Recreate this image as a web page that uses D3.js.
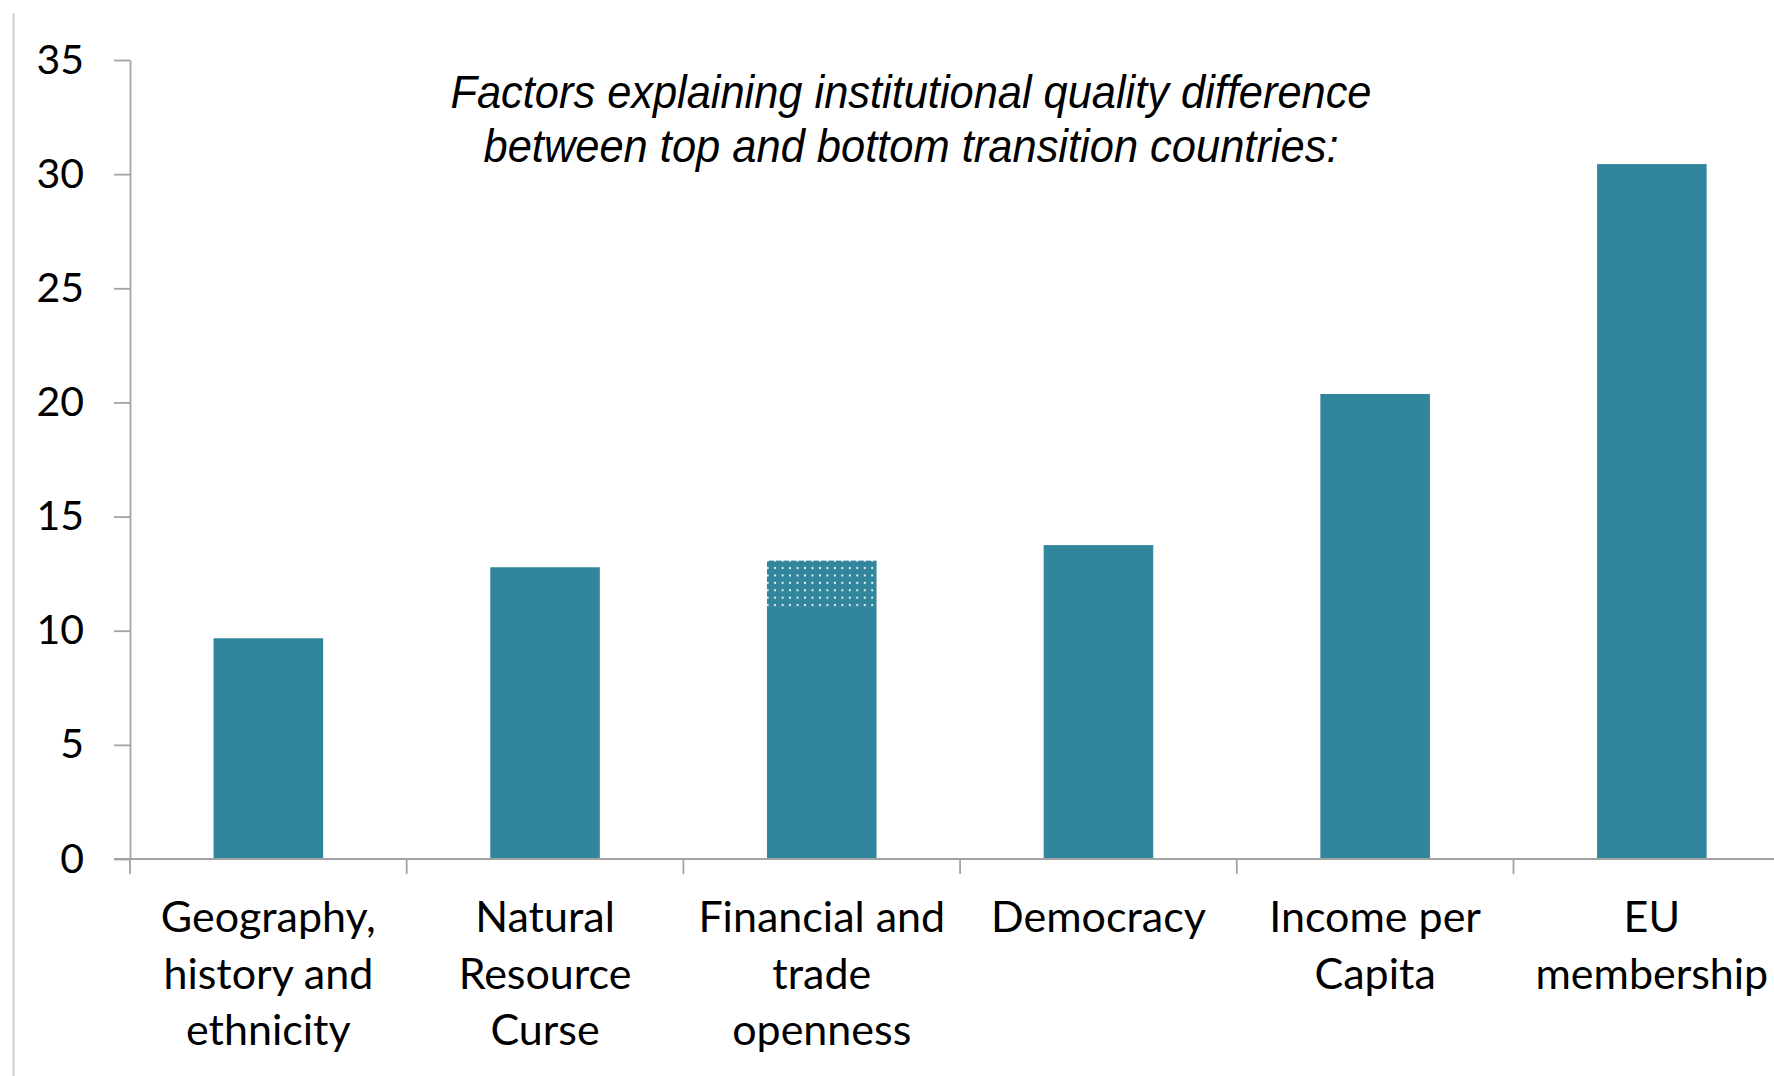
<!DOCTYPE html>
<html>
<head>
<meta charset="utf-8">
<script src="https://cdn.jsdelivr.net/npm/d3@7"></script>
<style>
  html, body { margin: 0; padding: 0; background: #fff; }
  svg { display: block; }
</style>
</head>
<body>
<div id="chart"></div>
<script>
// chart data
const categories = [
    ["Geography,", "history and", "ethnicity"],
    ["Natural", "Resource", "Curse"],
    ["Financial and", "trade", "openness"],
    ["Democracy"],
    ["Income per", "Capita"],
    ["EU", "membership"]
];
const baseValues = [9.67, 12.78, 11.08, 13.75, 20.37, 30.44];
// dotted top part (only financial and trade openness has one)
const extraValues = [0, 0, 1.99, 0, 0, 0];
const yTicks = [0, 5, 10, 15, 20, 25, 30, 35];
const titleLines = [
    "Factors explaining institutional quality difference",
    "between top and bottom transition countries:"
];

const W = 1774, H = 1076;
const margin = {top: 60, left: 130, bottom: 217};
const step = 276.7;
const barColor = "#31859c";
const axisColor = "#a3a3a3";

let svg = d3.select("#chart").append("svg")
    .attr("width", W)
    .attr("height", H);

let defs = svg.append("defs");
let pat = defs.append("pattern")
    .attr("id", "dots")
    .attr("patternUnits", "userSpaceOnUse")
    .attr("width", 7.47)
    .attr("height", 7.4)
    .attr("x", 2)
    .attr("y", 2);
pat.append("rect")
    .attr("width", 7.47).attr("height", 7.4)
    .attr("fill", barColor);
pat.append("circle")
    .attr("cx", 3.7).attr("cy", 3.7).attr("r", 1.05)
    .attr("fill", "#ffffff");

// thin frame line on the left
svg.append("line")
    .attr("x1", 13.5).attr("x2", 13.5)
    .attr("y1", 13).attr("y2", H)
    .attr("stroke", "#d0d0d0")
    .attr("stroke-width", 2);

let x = d3.scaleBand()
    .domain(d3.range(categories.length))
    .range([margin.left, margin.left + step * categories.length])
    .padding(0);

let y = d3.scaleLinear()
    .domain([0, 35])
    .range([H - margin.bottom, margin.top]);

let barW = x.bandwidth() * 0.396;

// solid bars
svg.selectAll("rect.bar")
    .data(baseValues)
    .enter()
    .append("rect")
    .attr("class", "bar")
    .attr("x", (d, i) => x(i) + x.bandwidth() / 2 - barW / 2)
    .attr("y", d => y(d))
    .attr("width", barW)
    .attr("height", d => y(0) - y(d))
    .attr("fill", barColor);

// dotted stacked parts
svg.selectAll("rect.extra")
    .data(extraValues.map((d, i) => ({i: i, base: baseValues[i], v: d})).filter(d => d.v > 0))
    .enter()
    .append("rect")
    .attr("class", "extra")
    .attr("x", d => x(d.i) + x.bandwidth() / 2 - barW / 2)
    .attr("y", d => y(d.base + d.v))
    .attr("width", barW)
    .attr("height", d => y(d.base) - y(d.base + d.v))
    .attr("fill", "url(#dots)");

// y axis
let yAxis = d3.axisLeft(y)
    .tickValues(yTicks)
    .tickSize(16)
    .tickSizeOuter(0)
    .tickPadding(30);
let gy = svg.append("g")
    .attr("transform", "translate(" + margin.left + ",0)")
    .call(yAxis);
gy.selectAll("path, line")
    .attr("stroke", axisColor)
    .attr("stroke-width", 1.8);
gy.selectAll("text")
    .attr("fill", "#000")
    .style("font-family", "Lato, 'Open Sans', sans-serif")
    .style("font-size", "41px");

// x axis: line, ticks between categories, wrapped labels
let gx = svg.append("g");
gx.append("line")
    .attr("x1", margin.left - 16)
    .attr("x2", W)
    .attr("y1", y(0)).attr("y2", y(0))
    .attr("stroke", axisColor)
    .attr("stroke-width", 1.8);
gx.selectAll("line.tick")
    .data(d3.range(categories.length + 1))
    .enter()
    .append("line")
    .attr("class", "tick")
    .attr("x1", i => margin.left + i * x.step())
    .attr("x2", i => margin.left + i * x.step())
    .attr("y1", y(0))
    .attr("y2", y(0) + 15)
    .attr("stroke", axisColor)
    .attr("stroke-width", 1.8);

let labels = gx.selectAll("text.cat")
    .data(categories)
    .enter()
    .append("text")
    .attr("class", "cat")
    .attr("text-anchor", "middle")
    .style("font-family", "Lato, 'Open Sans', sans-serif")
    .style("font-size", "43px")
    .attr("fill", "#000");
labels.each(function(lines, i) {
    d3.select(this).selectAll("tspan")
        .data(lines)
        .enter()
        .append("tspan")
        .attr("x", x(i) + x.bandwidth() / 2)
        .attr("y", (d, k) => 932 + k * 56.5)
        .text(d => d);
});

// title inside the plot
const titleWidths = [921, 855];
svg.selectAll("text.title")
    .data(titleLines)
    .enter()
    .append("text")
    .attr("class", "title")
    .attr("x", 911)
    .attr("y", (d, i) => 108 + i * 54)
    .attr("text-anchor", "middle")
    .attr("textLength", (d, i) => titleWidths[i])
    .attr("lengthAdjust", "spacingAndGlyphs")
    .style("font-family", "'Liberation Sans Narrow', 'Liberation Sans', Arial, sans-serif")
    .style("font-style", "italic")
    .style("font-size", "46px")
    .attr("fill", "#000")
    .text(d => d);
</script>
</body>
</html>
